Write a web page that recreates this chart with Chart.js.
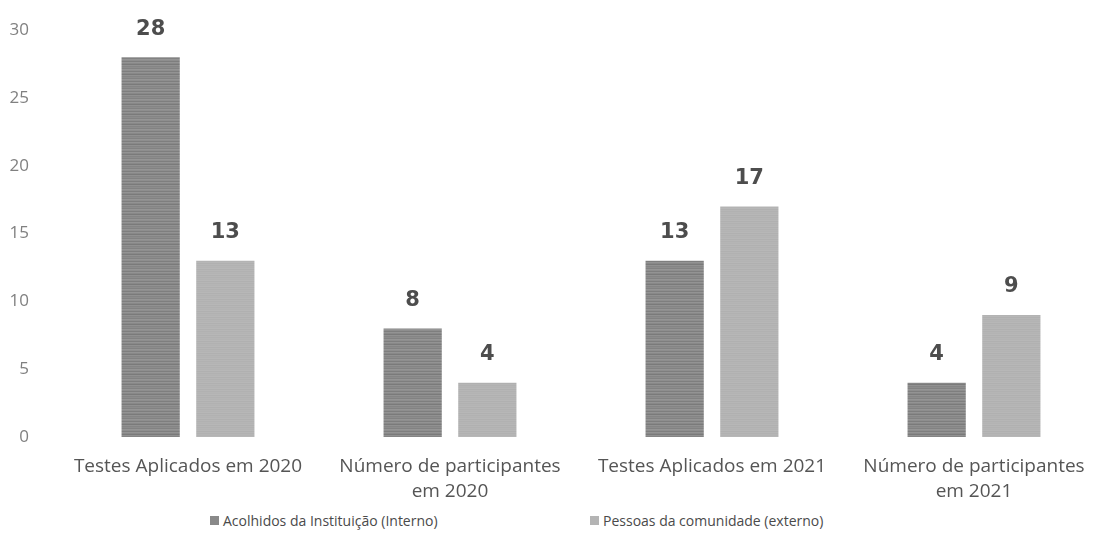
<!DOCTYPE html>
<html lang="pt">
<head>
<meta charset="utf-8">
<title>Testes e participantes 2020-2021</title>
<script src="https://cdn.jsdelivr.net/npm/chart.js@4.4.1/dist/chart.umd.min.js"></script>
<style>
    html, body { margin: 0; padding: 0; background: #fff; overflow: hidden; }
    #wrap { position: relative; width: 1105px; height: 507px; }
    #legend {
        display: flex;
        align-items: center;
        height: 26px;
        padding-left: 210px;
        font-family: "Open Sans", sans-serif;
        font-size: 14px;
        color: #4a4a4a;
    }
    .leg-item { display: flex; align-items: center; }
    .leg-item:first-child { width: 380px; }
    .leg-box { width: 9px; height: 9px; margin-right: 4px; }
</style>
</head>
<body>
<div id="wrap"><canvas id="chart"></canvas></div>
<div id="legend"></div>

<script>
// Dados do gráfico
const categorias = [
    'Testes Aplicados em 2020',
    ['Número de participantes', 'em 2020'],
    'Testes Aplicados em 2021',
    ['Número de participantes', 'em 2021']
];
const serieNomes = ['Acolhidos da Instituição (Interno)', 'Pessoas da comunidade (externo)'];
const interno = [28, 8, 13, 4];
const externo = [13, 4, 17, 9];
const yTicks = [0, 5, 10, 15, 20, 25, 30];

// Listras horizontais do scan
function stripePattern(rows) {
    const c = document.createElement('canvas');
    c.width = 1;
    c.height = rows.length;
    const g = c.getContext('2d');
    rows.forEach((col, i) => {
        g.fillStyle = col;
        g.fillRect(0, i, 1, 1);
    });
    return g.createPattern(c, 'repeat');
}

const corInterno = '#898989';
const corExterno = '#b4b4b4';
const fillInterno = stripePattern(['#8e8e8e', '#7e7e7e', '#939393', '#888888', '#7a7a7a', '#919191', '#858585', '#8c8c8c', '#828282', '#959595']);
const fillExterno = stripePattern(['#b6b6b6', '#b1b1b1', '#b5b5b5', '#b3b3b3', '#b7b7b7', '#b0b0b0']);

// Rótulos de valor em cima das barras
const valueLabels = {
    id: 'valueLabels',
    afterDatasetsDraw(chart) {
        const ctx = chart.ctx;
        ctx.save();
        ctx.font = 'bold 21px "DejaVu Sans", sans-serif';
        ctx.fillStyle = '#4d4d4d';
        ctx.textAlign = 'center';
        ctx.textBaseline = 'middle';
        chart.data.datasets.forEach((ds, i) => {
            chart.getDatasetMeta(i).data.forEach((bar, j) => {
                ctx.fillText(ds.data[j], bar.x, bar.y - 28);
            });
        });
        ctx.restore();
    }
};

const chart = new Chart(document.getElementById('chart'), {
    type: 'bar',
    data: {
        labels: categorias,
        datasets: [
            { label: serieNomes[0], data: interno, backgroundColor: fillInterno, legendColor: corInterno },
            { label: serieNomes[1], data: externo, backgroundColor: fillExterno, legendColor: corExterno }
        ]
    },
    options: {
        responsive: true,
        maintainAspectRatio: false,
        animation: false,
        layout: { padding: { top: 19, right: 0, bottom: 0, left: 0 } },
        datasets: {
            bar: { categoryPercentage: 0.57, barPercentage: 0.78 }
        },
        plugins: {
            legend: { display: false },
            tooltip: { enabled: false }
        },
        scales: {
            y: {
                min: 0,
                max: 30,
                afterBuildTicks: (scale) => { scale.ticks = yTicks.map(v => ({ value: v })); },
                afterFit: (scale) => { scale.width = 57; },
                grid: { display: false },
                border: { display: false },
                ticks: {
                    padding: 20,
                    color: '#808080',
                    font: { family: '"Open Sans", sans-serif', size: 17 }
                }
            },
            x: {
                afterFit: (scale) => { scale.height = 70; },
                grid: { display: false },
                border: { display: false },
                ticks: {
                    padding: 9,
                    maxRotation: 0,
                    autoSkip: false,
                    color: '#555',
                    font: { family: '"Open Sans", sans-serif', size: 19, lineHeight: 25 / 19 }
                }
            }
        }
    },
    plugins: [valueLabels]
});

// Legenda em HTML
document.getElementById('legend').innerHTML = chart.data.datasets.map(ds => `
    <div class="leg-item">
        <span class="leg-box" style="background:${ds.legendColor}"></span>
        <span>${ds.label}</span>
    </div>
`).join('');
</script>
</body>
</html>
